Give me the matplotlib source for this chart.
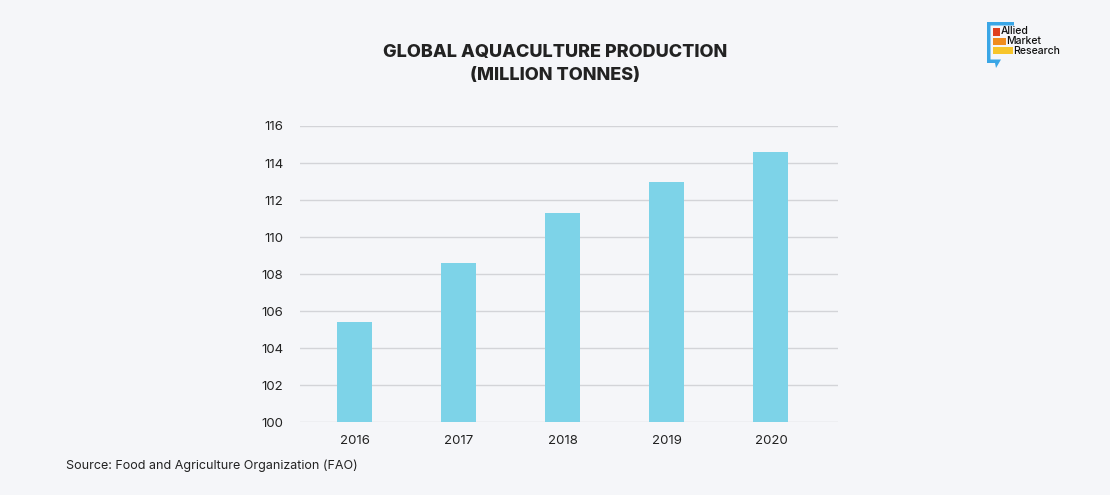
import matplotlib
matplotlib.use("Agg")
import matplotlib.pyplot as plt
from matplotlib.patches import Rectangle, Polygon

years = ["2016", "2017", "2018", "2019", "2020"]
production = [105.4, 108.6, 111.3, 113.0, 114.6]
yticks = [100, 102, 104, 106, 108, 110, 112, 114, 116]

BG = "#f5f6f9"
BAR = "#7dd3e8"
GRID = "#d3d4d8"
TXT = "#222222"
FONT = ["Inter", "DejaVu Sans"]

fig = plt.figure(figsize=(11.1, 4.95), dpi=100)
fig.patch.set_facecolor(BG)

W, H = 1110, 495
def fx(px): return px / W
def fy(py): return 1 - py / H

ax = fig.add_axes([fx(300), fy(422.3), fx(838) - fx(300), fy(126) - fy(422.3)])
ax.set_facecolor("none")
x = list(range(len(years)))
ax.bar(x, production, width=0.336, color=BAR, zorder=3)
ax.set_ylim(100, 116)
ax.set_xlim(-0.524, 4.644)
ax.set_yticks(yticks)
ax.set_yticklabels([str(t) for t in yticks], fontsize=9.5, color=TXT, family=FONT)
ax.set_xticks(x)
ax.set_xticklabels(years, fontsize=9.5, color=TXT, family=FONT)
ax.tick_params(axis="both", length=0)
ax.tick_params(axis="y", pad=12)
ax.tick_params(axis="x", pad=9)
ax.grid(axis="y", color=GRID, linewidth=1.0, zorder=0)
for s in ax.spines.values():
    s.set_visible(False)

fig.text(fx(555), fy(53), "GLOBAL AQUACULTURE PRODUCTION", ha="center", va="center",
         fontsize=13, fontweight="heavy", color=TXT, family=FONT)
fig.text(fx(555), fy(75), "(MILLION TONNES)", ha="center", va="center",
         fontsize=13, fontweight="heavy", color=TXT, family=FONT)

fig.text(fx(66), fy(466), "Source: Food and Agriculture Organization (FAO)", ha="left", va="center",
         fontsize=9, color=TXT, family=FONT)

# Logo
lax = fig.add_axes([0, 0, 1, 1])
lax.set_xlim(0, W)
lax.set_ylim(H, 0)
lax.axis("off")
lax.add_patch(Polygon([[987, 22], [1014, 22], [1014, 25.5], [990.5, 25.5], [990.5, 59.5], [1001, 59.5],
                       [996, 68], [995, 63], [987, 63]], closed=True, color="#3aa6e6", lw=0))
lax.add_patch(Rectangle((992.5, 28), 7, 8, color="#e0401f", lw=0))
lax.add_patch(Rectangle((992.5, 38), 13, 6.5, color="#f08c1e", lw=0))
lax.add_patch(Rectangle((992.5, 47), 20, 7, color="#f7c52b", lw=0))
lax.text(1000.5, 31, "Allied", fontsize=7.5, fontweight="medium", color="#111111", va="center", family=FONT)
lax.text(1006, 41, "Market", fontsize=7.5, fontweight="medium", color="#111111", va="center", family=FONT)
lax.text(1013, 51, "Research", fontsize=7.5, fontweight="medium", color="#111111", va="center", family=FONT)

fig.savefig("out.png", dpi=100, facecolor=BG)
